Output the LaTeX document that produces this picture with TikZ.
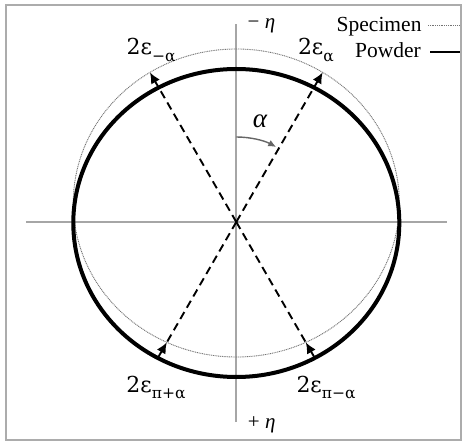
\documentclass[tikz,border=0pt]{standalone}
\usepackage{fontspec}
\setmainfont{Liberation Serif}
\newfontfamily\symfont{DejaVu Serif}
\usetikzlibrary{arrows.meta,intersections}
\newcommand\strainlab[1]{{\symfont\fontsize{22}{26}\selectfont 2ε\raisebox{-6.5pt}{\fontsize{15.5}{16}\selectfont #1}}}

\begin{document}
\begin{tikzpicture}[x=1pt, y=1pt,
        frame/.style={draw=gray!65, line width=2.2pt},
        axis/.style={draw=gray!70, line width=1.6pt},
        powder/.style={draw=black, line width=4pt},
        specimen/.style={draw=gray!90!black, line width=0.9pt, dash pattern=on 1pt off 0.8pt},
        ray/.style={draw, line width=1.9pt, dash pattern=on 8pt off 5pt},
        strain/.style={draw, line width=1.9pt, -{Latex[length=11pt, width=10pt]}},
        angle/.style={draw=gray!80!black, line width=1.4pt, -{Latex[length=8pt, width=7pt]}},
        lab/.style={inner sep=0pt, anchor=base west},
        axlab/.style={inner sep=0pt, anchor=base west, font=\fontsize{21}{24}\selectfont},
        legend/.style={inner sep=0pt, anchor=base east, font=\fontsize{21.5}{25}\selectfont}]

    \useasboundingbox (-236.3,-219) rectangle (226.7,222);
    \draw[frame] (-230.3,-218) rectangle (224.7,217);

    \coordinate (O) at (0,0);
    \coordinate (west) at (-210.3,0);
    \coordinate (east) at (210.7,0);
    \coordinate (north) at (0,198);
    \coordinate (south) at (0,-200);
    \draw[axis] (west) -- (east);
    \draw[axis] (south) -- (north);

    \draw[specimen, name path=spec] (0,19) ellipse [x radius=163, y radius=154];
    \draw[powder, name path=powd] (0,-1) ellipse [x radius=163, y radius=154];

    \foreach \a in {60,120,240,300} {
        \path[name path=ray] (O) -- (\a:240);
        \path[name intersections={of=powd and ray, by=pw\a}];
        \path[name intersections={of=spec and ray, by=sp\a}];
    }
    \foreach \a in {60,120} \draw[ray] (O) -- (pw\a);
    \foreach \a in {240,300} \draw[ray] (O) -- (sp\a);
    \foreach \a in {60,120,240,300} \draw[strain] (pw\a) -- (sp\a);

    \coordinate (a0) at (90:85);
    \draw[angle] (a0) arc[start angle=90, end angle=62, radius=85];
    \node[font=\itshape\fontsize{27}{27}\selectfont] (alpha) at (23.7,100.3) {α};

    \node[lab] (em) at (-109.8,167) {\strainlab{−α}};
    \node[lab] (ep) at (61.5,167) {\strainlab{α}};
    \node[lab] (epp) at (-110,-170) {\strainlab{π+α}};
    \node[lab] (epm) at (60,-170) {\strainlab{π−α}};

    \node[axlab] (etatop) at (11.2,193.5) {− \textit{η}};
    \node[axlab] (etabot) at (11.5,-206) {+ \textit{η}};

    \node[legend] (speclab) at (185.4,190.3) {Specimen};
    \node[legend] (powlab) at (184.7,164.7) {Powder};
    \draw[specimen] (191.7,197) -- (223.7,197);
    \draw[draw=black, line width=2.2pt] (193.7,170.3) -- (223.7,170.3);
\end{tikzpicture}
\end{document}
